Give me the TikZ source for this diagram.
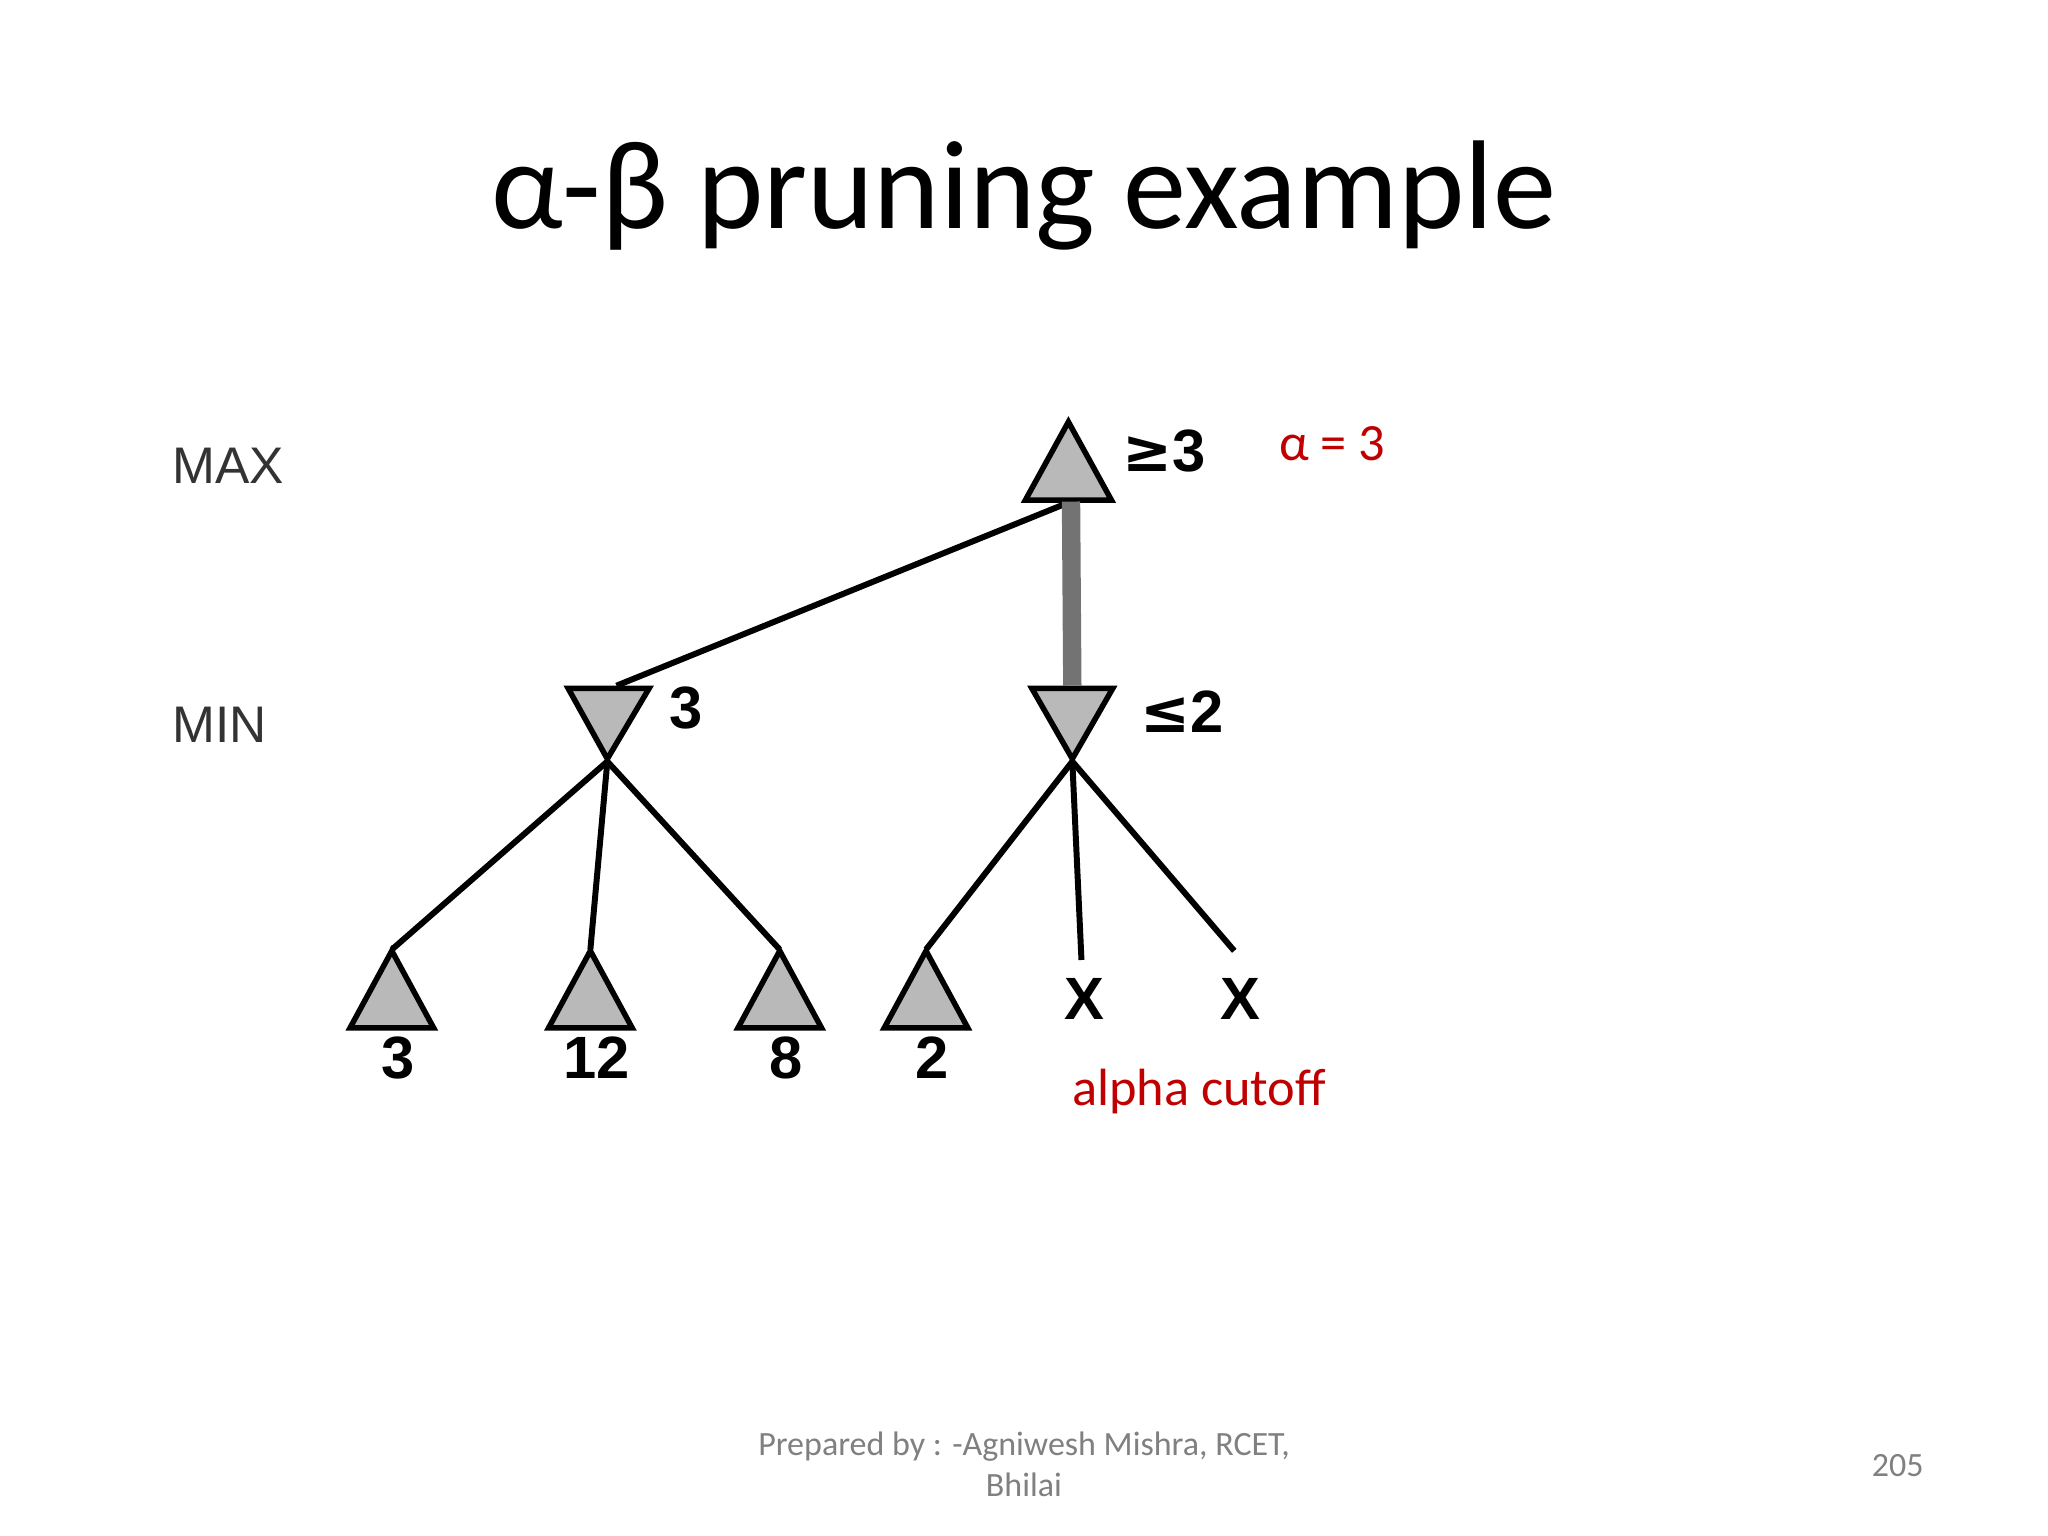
\documentclass[tikz,border=0pt]{standalone}
\usepackage{fontspec}
\setmainfont{Carlito}
\newfontfamily\djsym{DejaVu Sans}
\newfontfamily\libsans{Liberation Sans}
\begin{document}
\begin{tikzpicture}[x=0.01cm,y=-0.01cm,
  tri/.style={fill=gray!55,draw=black,line width=1.2pt,line join=miter},
  edge/.style={line width=1.3pt},
  lvl/.style={font=\libsans\fontsize{11.2}{13}\selectfont,text=black!80},
  val/.style={font=\libsans\bfseries\fontsize{13}{15}\selectfont},
  red/.style={text={rgb,255:red,192;green,0;blue,0},font=\fontsize{11.4}{14}\selectfont},
  foot/.style={text=gray,font=\fontsize{7.4}{9}\selectfont}]
\useasboundingbox (0,0) rectangle (1568,1176);
\node (title) at (784,150) {\fontsize{27.5}{32}\selectfont α-β pruning example};
\node[lvl] (max) at (175,357) {MAX};
\node[lvl] (min) at (168,555) {MIN};
% root
\draw[tri] (818,323) -- (851,383) -- (785,383) -- cycle;
\coordinate (r) at (820,384);
\node[val] (rl) at (891,345) {{\djsym ≥}3};
\node[red] (alpha) at (1020,340) {α = 3};
% min nodes
\draw[tri] (435,527) -- (497,527) -- (465,581) -- cycle;
\coordinate (m1t) at (472,525); \coordinate (m1) at (465,583);
\node[val] (m1l) at (525,542) {3};
\draw[tri] (790,527) -- (852,527) -- (821,581) -- cycle;
\coordinate (m2t) at (821,525); \coordinate (m2) at (821,583);
\node[val] (m2l) at (905,545) {{\djsym ≤}2};
\draw[edge] (r) -- (m1t);
\draw[line width=4pt,gray!90!black] (r) -- (m2t);
% leaves
\foreach \x/\v/\n in {300/3/a,452/12/b,597/8/c,709/2/d}{
  \draw[tri] (\x,728) -- (\x+32,787) -- (\x-32,787) -- cycle;
  \coordinate (\n) at (\x,727);
  \node[val] (l\n) at (\x+5,810) {\v};
}
\coordinate (e) at (828,735); \coordinate (f) at (945,728);
\node[val] (xe) at (830,765) {X};
\node[val] (xf) at (950,765) {X};
\draw[edge] (m1) -- (a); \draw[edge] (m1) -- (b); \draw[edge] (m1) -- (c);
\draw[edge] (m2) -- (d); \draw[edge] (m2) -- (e); \draw[edge] (m2) -- (f);
\node[red] (cut) at (918,836) {alpha cutoff};
\node[foot,align=center] (f1) at (784,1121) {Prepared by : -Agniwesh Mishra, RCET,\\Bhilai};
\node[foot] (pg) at (1453,1122) {205};
\end{tikzpicture}
\end{document}
